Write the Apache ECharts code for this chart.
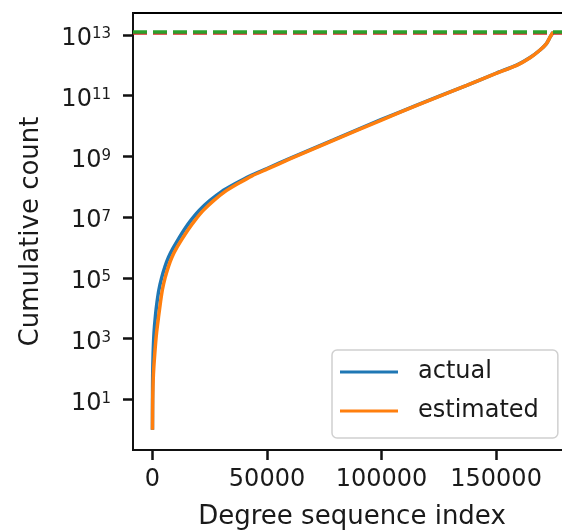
<!DOCTYPE html>
<html>
<head>
<meta charset="utf-8">
<script src="https://cdn.jsdelivr.net/npm/echarts@6/dist/echarts.min.js"></script>
<style>
  html, body { margin: 0; padding: 0; background: #fff; }
  #chart { width: 562px; height: 530px; }
</style>
</head>
<body>
<div id="chart"></div>
<script>
// degree sequence index (x) and cumulative count (y)
var actualX = [0, 30, 100, 300, 700, 1300, 2000, 2800, 4000, 5500, 7000, 9000, 11500, 14000, 17000, 20500, 25000, 30000, 36000, 42700, 50000, 60000, 79000, 100000, 115400, 137200, 150000, 159000, 165000, 169200, 172000, 173500, 174500, 175000];
var actualY = [1, 10, 63, 320, 1.6e3, 5.6e3, 1.6e4, 4e4, 1e5, 2.4e5, 4.8e5, 9.5e5, 2e6, 4e6, 8.3e6, 1.7e7, 3.5e7, 6.8e7, 1.25e8, 2.3e8, 4e8, 8.7e8, 3.5e9, 1.65e10, 4.9e10, 2.2e11, 5.5e11, 1.02e12, 1.85e12, 3.2e12, 5.2e12, 8.3e12, 1.12e13, 1.26e13];

var estX = [0, 100, 400, 1000, 1800, 2700, 3500, 4300, 5500, 7000, 8500, 10500, 13100, 15700, 18800, 22300, 26700, 31500, 37200, 43500, 50000, 60000, 79000, 100000, 115400, 137200, 150000, 159000, 165000, 169200, 172000, 173500, 174500, 175000];
var estY = [1, 10, 63, 320, 1.6e3, 5.6e3, 1.6e4, 4e4, 1e5, 2.4e5, 4.8e5, 9.5e5, 2e6, 4e6, 8.3e6, 1.7e7, 3.5e7, 6.8e7, 1.25e8, 2.3e8, 3.8e8, 8.3e8, 3.4e9, 1.58e10, 4.8e10, 2.2e11, 5.4e11, 1e12, 1.82e12, 3.2e12, 5.2e12, 8.3e12, 1.12e13, 1.26e13];

// horizontal dashed reference lines (totals)
var totalRed = 1.22e13;
var totalGreen = 1.26e13;

var xTicks = [0, 50000, 100000, 150000];
var yTicks = [10, 1e3, 1e5, 1e7, 1e9, 1e11, 1e13];

function pairs(xs, ys) {
  var out = [];
  for (var i = 0; i < xs.length; i++) out.push([xs[i], ys[i]]);
  return out;
}

var chart = echarts.init(document.getElementById('chart'));
var font = 'DejaVu Sans';
var tickStyle = { color: '#111', width: 2.5 };

chart.setOption({
  animation: false,
  textStyle: { fontFamily: font },
  grid: {
    left: 133, right: -9, top: 13, bottom: 80,
    outerBoundsMode: 'none',
    containLabel: false,
    show: true, borderColor: '#000', borderWidth: 2, backgroundColor: 'transparent'
  },
  legend: {
    left: 332, top: 350,
    orient: 'vertical',
    icon: 'rect',
    itemWidth: 58, itemHeight: 3, itemGap: 15,
    padding: [10, 19, 15, 8],
    backgroundColor: 'rgba(255,255,255,0.8)',
    borderColor: '#d0d0d0', borderWidth: 1.5, borderRadius: 5,
    textStyle: { fontFamily: font, fontSize: 24, color: '#1a1a1a', padding: [0, 0, 0, 15] },
    data: ['actual', 'estimated']
  },
  xAxis: {
    type: 'value',
    min: -8500, max: 182700,
    name: 'Degree sequence index',
    nameLocation: 'middle',
    nameGap: 54,
    nameMoveOverlap: false,
    nameTextStyle: { fontFamily: font, fontSize: 26, color: '#1a1a1a' },
    axisLine: { show: true, onZero: false, lineStyle: { color: '#111', width: 2 } },
    axisTick: { show: true, inside: false, length: 10, lineStyle: tickStyle, customValues: xTicks },
    axisLabel: {
      fontFamily: font, fontSize: 24, color: '#1a1a1a', margin: 18, customValues: xTicks,
      formatter: function (v) { return String(v); }
    },
    splitLine: { show: false }
  },
  yAxis: {
    type: 'log',
    min: 0.2138, max: 5.31e13,
    name: 'Cumulative count',
    nameLocation: 'middle',
    nameGap: 89,
    nameMoveOverlap: false,
    nameTextStyle: { fontFamily: font, fontSize: 26, color: '#1a1a1a' },
    axisLine: { show: true, onZero: false, lineStyle: { color: '#111', width: 2 } },
    axisTick: { show: true, inside: false, length: 10, lineStyle: tickStyle, customValues: yTicks },
    axisLabel: {
      margin: 22,
      customValues: yTicks,
      padding: [8, 0, 0, 0],
      formatter: function (v) {
        var e = Math.round(Math.log10(v));
        return '{b|10}{s|' + e + '}';
      },
      rich: {
        b: { fontFamily: font, fontSize: 24, color: '#1a1a1a', verticalAlign: 'bottom' },
        s: { fontFamily: font, fontSize: 15, color: '#1a1a1a', verticalAlign: 'top' }
      }
    },
    splitLine: { show: false }
  },
  series: [
    {
      name: 'actual',
      type: 'line',
      showSymbol: false,
      smooth: 0.2,
      color: '#1f77b4',
      lineStyle: { width: 3.5, color: '#1f77b4' },
      data: pairs(actualX, actualY),
      markLine: {
        silent: true,
        symbol: 'none',
        label: { show: false },
        data: [
          { yAxis: totalRed, lineStyle: { color: '#d62728', type: [14, 6], width: 3.5 } },
          { yAxis: totalGreen, lineStyle: { color: '#2ca02c', type: [14, 6], width: 3.5 } }
        ]
      }
    },
    {
      name: 'estimated',
      type: 'line',
      showSymbol: false,
      smooth: 0.2,
      color: '#ff7f0e',
      lineStyle: { width: 3.5, color: '#ff7f0e' },
      data: pairs(estX, estY)
    }
  ]
});
</script>
</body>
</html>
